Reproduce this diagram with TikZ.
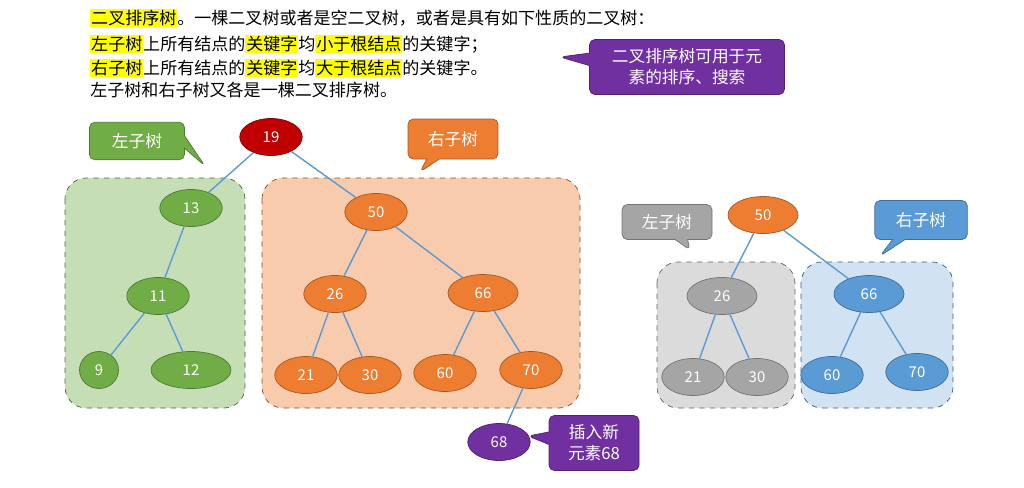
\documentclass[tikz,border=0pt]{standalone}
\usepackage{fontspec}
\setmainfont{Noto Sans CJK SC}
\usetikzlibrary{shapes.callouts,shapes.geometric}
\definecolor{hlY}{HTML}{FFFF00}
\definecolor{ndGreen}{HTML}{70AD47}
\definecolor{ndOrange}{HTML}{ED7D31}
\definecolor{ndGray}{HTML}{A5A5A5}
\definecolor{ndBlue}{HTML}{5B9BD5}
\definecolor{ndPurple}{HTML}{7030A0}
\definecolor{ndRed}{HTML}{C00000}
\newcommand{\hlt}[1]{{\setlength{\fboxsep}{0.5pt}\colorbox{hlY}{#1}}}
\tikzset{
  key/.style={ellipse,draw=#1!70!black,fill=#1,text=white,minimum width=1.25cm,minimum height=0.74cm,inner sep=0pt,font=\fontsize{8.5}{10}\selectfont},
  panel/.style={draw=#1!60!black,dashed,rounded corners=12pt,fill=#1!40},
  tip/.style={rectangle callout,fill=#1,draw=#1!70!black,text=white,rounded corners=3pt,align=center,font=\fontsize{9.5}{12}\selectfont,inner sep=4pt},
  edge/.style={draw=ndBlue,thick},
  line/.style={anchor=west,inner sep=0pt,font=\fontsize{9.7}{11}\selectfont}
}
\begin{document}
\begin{tikzpicture}[x=0.02cm,y=-0.02cm]
\useasboundingbox (0,0) rectangle (1024,487);
% intro text
\node[line] (t1) at (90,18) {\hlt{二叉排序树}。一棵二叉树或者是空二叉树，或者是具有如下性质的二叉树：};
\node[line] (t2) at (90,44) {\hlt{左子树}上所有结点的\hlt{关键字}均\hlt{小于根结点}的关键字；};
\node[line] (t3) at (90,68) {\hlt{右子树}上所有结点的\hlt{关键字}均\hlt{大于根结点}的关键字。};
\node[line] (t4) at (90,90) {左子树和右子树又各是一棵二叉排序树。};
\node[tip=ndPurple,minimum width=3.9cm,minimum height=1.1cm,callout absolute pointer={(560,57)}] (c1) at (687,67) {二叉排序树可用于元\\素的排序、搜索};
% panels
\draw[panel=ndGreen] (65,178) rectangle (245,408);
\draw[panel=ndOrange] (262,178) rectangle (580,408);
\draw[panel=ndGray] (657,262) rectangle (795,408);
\draw[panel=ndBlue,fill=ndBlue!28] (801,262) rectangle (953,408);
% left tree
\node[key=ndRed] (r19) at (271,137) {19};
\node[key=ndGreen] (n13) at (191,208) {13};
\node[key=ndGreen] (n11) at (158,296) {11};
\node[key=ndGreen,minimum width=0.78cm] (n9) at (99,370) {9};
\node[key=ndGreen,minimum width=1.6cm] (n12) at (191,370) {12};
\node[key=ndOrange] (n50) at (376,212) {50};
\node[key=ndOrange] (n26) at (335,294) {26};
\node[key=ndOrange,minimum width=1.4cm] (n66) at (483,293) {66};
\node[key=ndOrange] (n21) at (306,375) {21};
\node[key=ndOrange] (n30) at (370,375) {30};
\node[key=ndOrange] (n60) at (445,373) {60};
\node[key=ndOrange] (n70) at (531,370) {70};
\node[key=ndPurple] (n68) at (499,442) {68};
\draw[edge] (r19) -- (n13) (r19) -- (n50)
  (n13) -- (n11) (n11) -- (n9) (n11) -- (n12)
  (n50) -- (n26) (n50) -- (n66) (n26) -- (n21) (n26) -- (n30)
  (n66) -- (n60) (n66) -- (n70) (n70) -- (n68);
% right tree
\node[key=ndOrange,minimum width=1.4cm] (m50) at (763,215) {50};
\node[key=ndGray,minimum width=1.4cm] (m26) at (722,296) {26};
\node[key=ndBlue,minimum width=1.4cm] (m66) at (869,294) {66};
\node[key=ndGray] (m21) at (693,377) {21};
\node[key=ndGray] (m30) at (757,377) {30};
\node[key=ndBlue] (m60) at (832,375) {60};
\node[key=ndBlue] (m70) at (917,372) {70};
\draw[edge] (m50) -- (m26) (m50) -- (m66) (m26) -- (m21) (m26) -- (m30)
  (m66) -- (m60) (m66) -- (m70);
% callouts
\node[tip=ndGreen,minimum width=1.9cm,minimum height=0.75cm,callout absolute pointer={(205,166)}] (c2) at (137,141) {左子树};
\node[tip=ndOrange,minimum width=1.8cm,minimum height=0.8cm,callout absolute pointer={(420,172)}] (c3) at (453,139) {右子树};
\node[tip=ndGray,minimum width=1.8cm,minimum height=0.7cm,callout absolute pointer={(690,250)}] (c4) at (667,222) {左子树};
\node[tip=ndBlue,minimum width=1.85cm,minimum height=0.78cm,callout absolute pointer={(880,256)}] (c5) at (921,220) {右子树};
\node[tip=ndPurple,minimum width=1.8cm,minimum height=1.1cm,callout absolute pointer={(528,436)}] (c6) at (594,443) {插入新\\元素68};
\end{tikzpicture}
\end{document}
